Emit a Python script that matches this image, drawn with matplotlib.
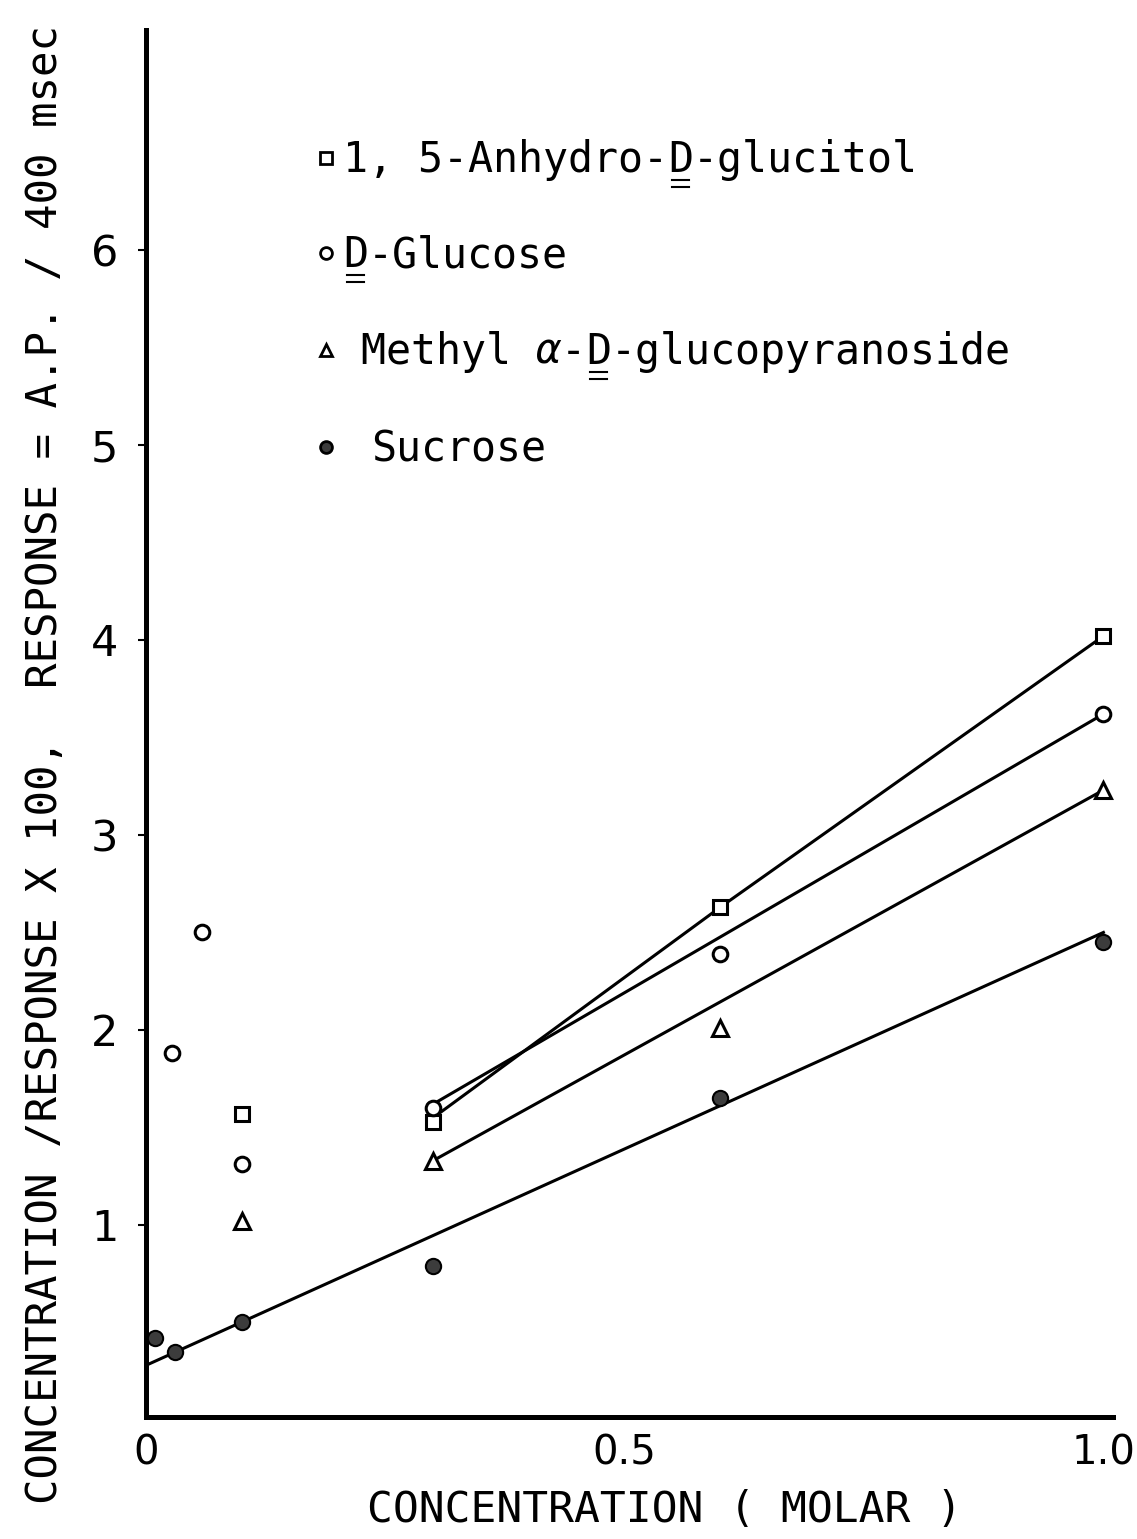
import matplotlib
matplotlib.use('Agg')
import matplotlib.pyplot as plt
from matplotlib.lines import Line2D

# measured points
glucitol_x = [0.1, 0.3, 0.6, 1.0]
glucitol_y = [1.57, 1.53, 2.63, 4.02]
glucose_x = [0.027, 0.058, 0.1, 0.3, 0.6, 1.0]
glucose_y = [1.88, 2.50, 1.31, 1.60, 2.39, 3.62]
methyl_x = [0.1, 0.3, 0.6, 1.0]
methyl_y = [1.02, 1.33, 2.01, 3.23]
sucrose_x = [0.009, 0.030, 0.1, 0.3, 0.6, 1.0]
sucrose_y = [0.42, 0.35, 0.50, 0.79, 1.65, 2.45]

# drawn lines
glucitol_line_x = [0.3, 0.6, 1.0]
glucitol_line_y = [1.55, 2.63, 4.02]
glucose_line_x = [0.3, 1.0]
glucose_line_y = [1.62, 3.62]
methyl_line_x = [0.3, 1.0]
methyl_line_y = [1.33, 3.23]
sucrose_line_x = [0.0, 1.0]
sucrose_line_y = [0.28, 2.50]

x_ticks = [0, 0.5, 1.0]
x_ticklabels = ['0', '0.5', '1.0']
y_ticks = [1, 2, 3, 4, 5, 6]

W, H = 1137, 1539
FS = 29
MONO = 'DejaVu Sans Mono'

fig = plt.figure(figsize=(W / 100, H / 100), dpi=100)
ax = fig.add_axes([146 / W, 122 / H, 967 / W, 1387 / H])
ax.set_xlim(0, 1.01)
ax.set_ylim(0.015, 7.128)

for sp in ['top', 'right']:
    ax.spines[sp].set_visible(False)
for sp in ['left', 'bottom']:
    ax.spines[sp].set_linewidth(3.6)

ax.set_xticks(x_ticks)
ax.set_xticklabels(x_ticklabels)
ax.set_yticks(y_ticks)
ax.tick_params(axis='x', length=0, pad=12, labelsize=FS)
ax.tick_params(axis='y', length=6, width=1.5, pad=14, labelsize=FS + 2)

lw = 2.2
ax.plot(glucitol_line_x, glucitol_line_y, color='black', lw=lw, zorder=2)
ax.plot(glucose_line_x, glucose_line_y, color='black', lw=lw, zorder=2)
ax.plot(methyl_line_x, methyl_line_y, color='black', lw=lw, zorder=2)
ax.plot(sucrose_line_x, sucrose_line_y, color='black', lw=lw, zorder=2)

ax.plot(glucitol_x, glucitol_y, 's', ms=10, mfc='white', mec='black', mew=2.2, zorder=3)
ax.plot(glucose_x, glucose_y, 'o', ms=10.5, mfc='white', mec='black', mew=2.2, zorder=3)
ax.plot(methyl_x, methyl_y, '^', ms=11, mfc='white', mec='black', mew=2.2, zorder=3)
ax.plot(sucrose_x, sucrose_y, 'o', ms=11, mfc='#3c3c3c', mec='black', mew=1.5, zorder=3)

fig.text(45 / W, 1 - 765 / H, 'CONCENTRATION /RESPONSE X 100,  RESPONSE = A.P. / 400 msec',
         rotation=90, ha='center', va='center', fontsize=30.5, family=MONO)
fig.text(665 / W, 1 - 1510 / H, 'CONCENTRATION ( MOLAR )', ha='center', va='center',
         fontsize=31, family=MONO)

# legend drawn by hand, with the double underlined D
fig.canvas.draw()
renderer = fig.canvas.get_renderer()


def put_line(x_px, base_px, segments):
    x = x_px
    for txt, uu, style in segments:
        t = fig.text(x / W, 1 - base_px / H, txt, ha='left', va='baseline',
                     fontsize=30, fontstyle=style, family=MONO)
        bb = t.get_window_extent(renderer)
        if uu:
            for off in (8, 15):
                y = 1 - (base_px + off) / H
                fig.add_artist(Line2D([(bb.x0 + 4) / W, (bb.x1 - 4) / W], [y, y],
                                      transform=fig.transFigure, color='black', lw=1.5))
        x = bb.x1


legend_rows = [
    (158, 's', 'white', [('1, 5-Anhydro-', False, 'normal'), ('D', True, 'normal'),
                         ('-glucitol', False, 'normal')]),
    (253, 'o', 'white', [('D', True, 'normal'), ('-Glucose', False, 'normal')]),
    (350, '^', 'white', [('Methyl ', False, 'normal'), ('α', False, 'italic'),
                         ('-', False, 'normal'), ('D', True, 'normal'),
                         ('-glucopyranoside', False, 'normal')]),
    (447, 'o', '#3c3c3c', [('Sucrose', False, 'normal')]),
]
text_x = [343, 343, 361, 371]
for (yc, mk, fc, segs), tx in zip(legend_rows, text_x):
    fig.add_artist(Line2D([326 / W], [1 - yc / H], marker=mk, ms=8.5, mfc=fc, mec='black',
                          mew=2.0, transform=fig.transFigure))
    put_line(tx, yc + 14, segs)

fig.savefig('out.png', dpi=100)
